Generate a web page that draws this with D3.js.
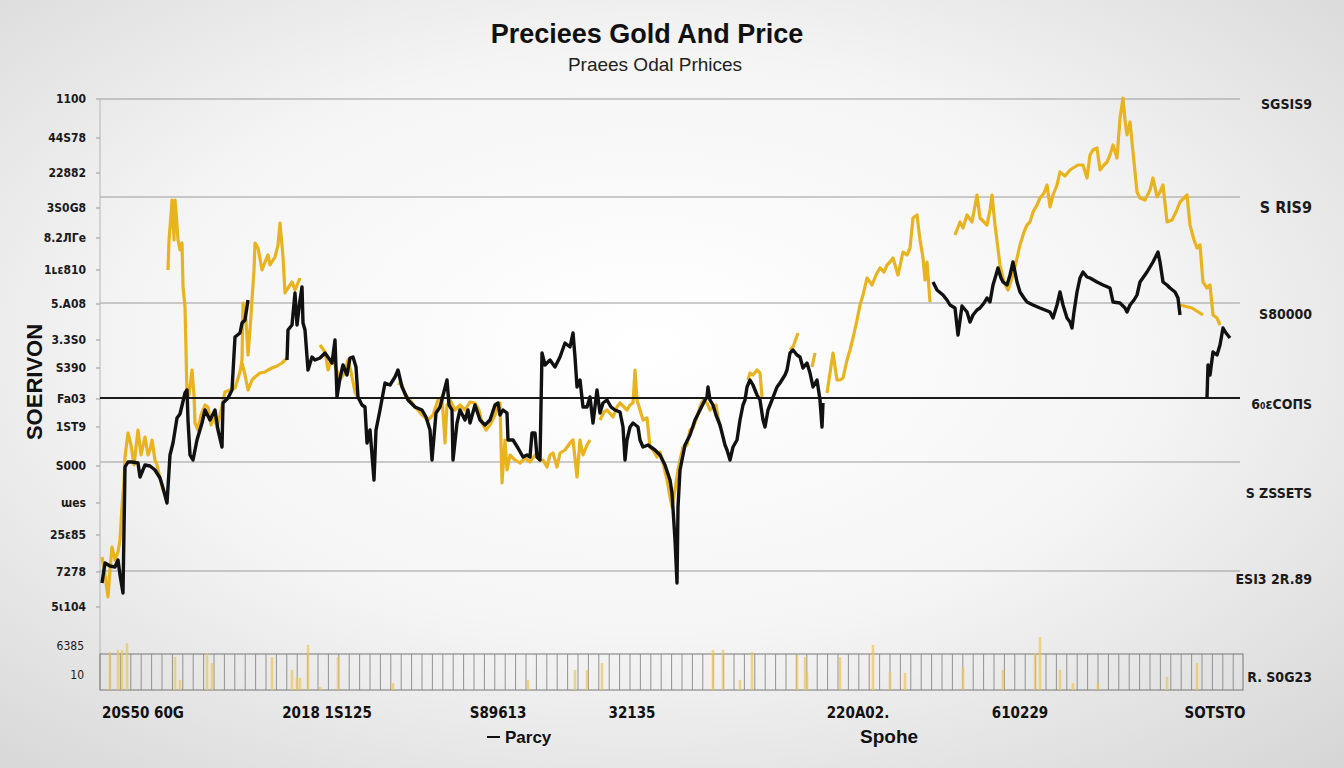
<!DOCTYPE html>
<html><head><meta charset="utf-8">
<script src="https://cdn.jsdelivr.net/npm/d3@7"></script>
<style>body{margin:0;background:#ececec;} svg{display:block}</style>
</head><body><svg id="c" width="1344" height="768"></svg>
<script>
// ---------- text ----------
const titleText = "Preciees Gold And Price";
const subtitleText = "Praees Odal Prhices";
const yTitle = "SOERIVON";
const legendA = "Parcy";
const legendB = "Spohe";

// ---------- tick labels ----------
const leftLabels = ["1100","44S78","22882","3S0G8","8.2ЛΓe","1ʟɛ810","5.A08","3.3S0","S390","Fa03","1ST9","S000","ɯes","25ɛ85","7278","5ɩ104"];
const leftValues = [501,462,427,392,362,330,296,260,232,201,173,134,97,65,28,-7];
const leftVolLabels = ["6385","10"];
const leftVolValues = [44,15];
const rightLabels = ["SGSIS9","S RIS9","S80000","6₀ɛCOПS","S ZSSETS","ESI3 2R.89"];
const rightValues = [496,392,286,196,107,21];
const rightVolLabels = ["R. S0G23"];
const rightVolValues = [13];
const xLabels = ["20S50 60G","2018 1S125","S89613","32135","220A02.","610229","SOTSTO"];
const xLabelWeeks = [43,227,398,532,758,920,1115];
const gridValues = [501,403,297,138,29];
const baseValue = 202;

// ---------- series (week, price); null = gap ----------
const blackSeries = [
[2,17],[5,37],[10,34],[15,33],[18,40],[20,25],[23,7],[25,133],[28,138],[32,138],[38,137],[40,123],[45,135],[50,134],[55,130],[60,122],[63,112],[67,97],[70,145],[73,157],[77,182],[80,186],[85,207],[87,210],[88,180],[90,145],[93,140],[97,160],[102,177],[105,190],[110,180],[115,190],[118,170],[122,153],[123,197],[128,202],[132,210],[135,263],[140,267],[142,277],[145,280],[148,300],
null,
[187,240],[188,270],[192,275],[195,307],[197,275],[200,300],[202,313],[203,277],[205,270],[208,230],[212,243],[215,240],[220,242],[225,247],[230,240],[232,237],[235,260],[237,203],[240,222],[243,235],[247,225],[250,242],[253,243],[256,233],[258,203],[262,195],[265,193],[267,157],[270,170],[274,120],[276,170],[280,190],[285,217],[290,215],[295,223],[298,230],[302,213],[308,200],[315,193],[322,190],[326,183],[330,170],[332,140],[336,187],[340,193],[347,220],[349,195],[352,190],[353,140],[357,177],[360,190],[365,180],[368,190],[370,177],[375,195],[380,180],[385,175],[390,180],[395,195],[398,197],[400,185],[403,190],[407,187],[408,160],[413,160],[418,152],[423,143],[427,145],[430,143],[432,167],[435,167],[437,143],[440,140],[442,247],[445,235],[450,240],[455,233],[460,243],[465,257],[470,253],[473,267],[475,243],[477,213],[480,220],[483,193],[487,193],[490,203],[493,177],[497,210],[500,187],[503,197],[507,200],[511,193],[515,190],[520,188],[523,173],[525,140],[527,160],[530,173],[533,177],[538,173],[540,160],[543,153],[548,155],[555,150],[560,145],[565,135],[570,120],[572,107],[575,60],[577,17],[578,93],[580,130],[585,155],[590,165],[595,180],[600,190],[605,200],[607,203],[608,213],[610,200],[613,195],[616,185],[620,175],[622,167],[625,155],[627,150],[630,140],[633,153],[637,160],[640,180],[643,195],[645,200],[647,213],[650,220],[653,215],[657,205],[660,200],[663,180],[665,173],[668,190],[672,200],[677,213],[680,217],[685,225],[687,230],[690,247],[693,250],[697,245],[700,243],[703,232],[707,237],[710,227],[713,213],[717,220],[720,200],[722,173],[723,197],
null,
[833,318],[837,310],[843,305],[847,300],[850,295],[855,292],[858,265],[862,294],[867,288],[870,278],[873,285],[877,290],[880,292],[884,297],[887,302],[890,298],[893,315],[896,325],[898,332],[901,322],[903,318],[907,315],[910,325],[913,338],[917,318],[920,308],[924,302],[927,298],[933,295],[940,292],[945,290],[950,288],[953,282],[957,295],[960,308],[963,295],[967,282],[970,278],[972,272],[974,288],[977,308],[980,322],[983,328],[987,323],[990,322],[997,318],[1003,315],[1010,312],[1013,298],[1020,297],[1025,292],[1027,288],[1030,295],[1034,300],[1037,305],[1040,318],[1047,328],[1053,338],[1058,348],[1060,338],[1063,318],[1067,315],[1070,312],[1075,308],[1078,302],[1080,285],
null,
[1107,202],[1108,235],[1110,225],[1113,248],[1117,245],[1120,255],[1123,272],[1126,267],[1130,262]
];

const goldSeries = [
[2,43],[5,25],[8,3],[10,30],[12,53],[15,40],[18,48],[20,60],[22,93],[24,120],[25,143],[28,167],[31,155],[34,135],[38,170],[41,145],[45,163],[48,145],[50,150],[52,160],[55,140],[57,135],[60,122],[63,110],
null,
[68,330],[69,360],[71,385],[72,400],[74,360],[75,400],[77,375],[78,360],[80,350],[82,357],[83,313],[85,293],[86,250],[87,203],[89,205],[92,230],[94,205],[95,177],[98,170],[101,185],[105,195],[108,193],[111,175],[114,185],[117,172],[120,185],[125,208],[130,210],[135,212],[140,228],[142,240],[143,297],[146,280],[148,245],[150,270],[152,300],[154,330],[155,357],[158,352],[162,330],[165,338],[168,345],[170,335],[175,343],[178,355],[180,377],[183,343],[185,307],[188,312],[192,318],[195,310],[200,322],
null,
[142,237],[145,225],[148,210],[152,220],[155,223],[160,227],[165,228],[168,230],[172,232],[177,234],[182,237],[187,242],
null,
[220,255],[225,248],[228,230],[231,240],[235,235],[240,220],[245,228],[248,240],[251,228],[255,208],[258,202],
null,
[298,217],[302,215],[305,205],[310,200],[315,193],[318,190],[322,185],[328,180],[333,185],[338,200],[342,203],[345,157],[347,195],[350,200],[355,190],[360,195],[365,190],[370,198],[375,197],[379,190],[382,177],[386,170],[390,175],[395,185],[398,195],[400,197],[402,117],[405,160],[407,130],[410,145],[415,140],[420,137],[425,142],[430,138],[435,145],[440,140],[443,140],[447,133],[450,145],[453,147],[457,133],[460,147],[465,150],[470,157],[473,160],[477,123],[480,160],[483,145],[487,155],[490,160],
null,
[500,180],[504,188],[507,190],[513,183],[517,193],[520,197],[527,190],[530,195],[533,197],[535,230],[537,200],[543,180],[547,182],[550,153],[553,150],[557,143],[560,148],[563,137],[567,120],[570,103],[572,93],[575,110],[578,130],[580,140],[583,153],[587,155],[590,170],[593,172],[597,183],[600,193],[603,200],[607,197],[610,190],[613,193],[616,195],[618,183],[620,173],
null,
[648,220],[650,227],[653,225],[657,230],[660,227],[662,203],
null,
[690,250],[693,253],[698,267],
null,
[712,233],[715,247],
null,
[727,207],[730,227],[733,247],[737,220],[740,220],[743,222],[747,240],[750,250],[753,262],[757,280],[760,295],[763,305],[767,322],[772,315],[776,325],[780,332],[784,328],[787,335],[790,338],[793,342],[798,325],[803,348],[807,345],[810,352],[813,382],[817,385],[820,360],[823,342],[825,320],[827,338],[830,298],
null,
[855,365],[860,378],[863,372],[867,385],[872,378],[877,405],[880,382],[884,378],[887,375],[890,390],[892,405],[895,375],[900,335],[904,318],[908,310],[913,325],[917,342],[920,355],[924,368],[927,375],[930,378],[933,388],[937,395],[940,402],[944,407],[947,415],[950,393],[953,405],[957,415],[960,428],[965,424],[970,430],[973,432],[978,435],[983,435],[987,422],[990,445],[993,450],[997,452],[1000,430],[1004,435],[1007,438],[1010,445],[1013,455],[1017,442],[1020,482],[1023,502],[1025,480],[1027,465],[1030,478],[1033,448],[1037,408],[1040,402],[1045,400],[1050,410],[1053,422],[1057,403],[1060,408],[1063,415],[1067,378],[1072,380],[1076,388],[1080,398],[1084,402],[1087,405],[1090,375],[1094,360],[1097,352],[1100,355],[1103,318],[1107,312],[1110,315],[1113,285],[1117,282],[1120,275],
null,
[1080,295],[1092,292],[1103,285]
];

// volume (week, volume)
const volWeeks = [10,18,22,27,75,80,107,112,172,192,197,200,208,220,238,293,428,475,487,502,613,623,640,652,697,705,707,740,773,790,805,863,903,935,940,960,973,998,1067,1097];
const volValues = [38,40,40,47,33,10,37,27,33,20,12,12,45,3,33,7,10,20,20,27,40,40,10,38,35,33,17,33,45,18,17,23,20,37,53,20,7,7,13,27];

// ---------- drawing ----------
const svg = d3.select("#c");
const W = 1344, H = 768;
const defs = svg.append("defs");
const rg = defs.append("radialGradient").attr("id","bg").attr("cx","0.48").attr("cy","0.45").attr("r","0.75");
rg.append("stop").attr("offset","0").attr("stop-color","#ffffff");
rg.append("stop").attr("offset","0.5").attr("stop-color","#f5f5f5");
rg.append("stop").attr("offset","1").attr("stop-color","#d6d6d6");
svg.append("rect").attr("width",W).attr("height",H).attr("fill","url(#bg)");

const x = d3.scaleLinear().domain([0,1140]).range([100,1240]);
const y = d3.scaleLinear().domain([0,501]).range([600,99]);
const yv = d3.scaleLinear().domain([0,50]).range([690,640]);

// title
svg.append("text").attr("x",647).attr("y",43).attr("text-anchor","middle")
  .attr("font-family","Liberation Sans, Arial, sans-serif").attr("font-weight","bold")
  .attr("font-size",27).attr("fill","#111").text(titleText);
svg.append("text").attr("x",655).attr("y",71).attr("text-anchor","middle")
  .attr("font-family","Liberation Sans, Arial, sans-serif")
  .attr("font-size",19).attr("fill","#222").text(subtitleText);

// grid
svg.append("g").selectAll("line").data(gridValues).join("line")
  .attr("x1",x(0)).attr("x2",x(1140)).attr("y1",d=>y(d)).attr("y2",d=>y(d))
  .attr("stroke","#9a9a9a").attr("stroke-width",1);

// left axis line + ticks
svg.append("line").attr("x1",100).attr("x2",100).attr("y1",y(501)).attr("y2",yv(0))
  .attr("stroke","#b5b5b5").attr("stroke-width",1);
svg.append("g").selectAll("line").data(leftValues).join("line")
  .attr("x1",96).attr("x2",100).attr("y1",d=>y(d)).attr("y2",d=>y(d))
  .attr("stroke","#999");

// volume panel
const volG = svg.append("g");
volG.append("rect").attr("x",x(0)).attr("y",yv(36)).attr("width",x(1143)-x(0)).attr("height",yv(0)-yv(36))
  .attr("fill","none").attr("stroke","#777").attr("stroke-width",1);
volG.selectAll("line.vg").data(d3.range(10,1140,10.4)).join("line").attr("class","vg")
  .attr("x1",d=>x(d)).attr("x2",d=>x(d)).attr("y1",yv(36)).attr("y2",yv(0))
  .attr("stroke","#888").attr("stroke-width",0.9);
volG.selectAll("rect.vb").data(volWeeks.map((w,i)=>[w,volValues[i]])).join("rect").attr("class","vb")
  .attr("x",d=>x(d[0])-1.3).attr("width",2.6)
  .attr("y",d=>yv(d[1])).attr("height",d=>yv(0)-yv(d[1]))
  .attr("fill","#ecc55a").attr("opacity",0.7);

// lines
const line = d3.line().defined(d=>d!==null).x(d=>x(d[0])).y(d=>y(d[1]));
svg.append("path").datum(goldSeries).attr("d",line).attr("fill","none")
  .attr("stroke","#e9b320").attr("stroke-width",3.2).attr("stroke-linejoin","round");
// baseline (dark)
svg.append("line").attr("x1",x(0)).attr("x2",x(1140)).attr("y1",y(baseValue)).attr("y2",y(baseValue))
  .attr("stroke","#1a1a1a").attr("stroke-width",1.8);
svg.append("path").datum(blackSeries).attr("d",line).attr("fill","none")
  .attr("stroke","#111").attr("stroke-width",3.4).attr("stroke-linejoin","round");

// left labels
const lblFont = "DejaVu Sans Condensed, DejaVu Sans, sans-serif";
svg.append("g").selectAll("text").data(leftLabels).join("text")
  .attr("x",86).attr("y",(d,i)=>y(leftValues[i])+4).attr("text-anchor","end")
  .attr("font-family",lblFont).attr("font-weight","bold").attr("font-size",12).attr("fill","#1a1a1a")
  .text(d=>d);
svg.append("g").selectAll("text").data(leftVolLabels).join("text")
  .attr("x",84).attr("y",(d,i)=>yv(leftVolValues[i])+4).attr("text-anchor","end")
  .attr("font-family",lblFont).attr("font-size",12).attr("fill","#1a1a1a")
  .text(d=>d);

// right labels
svg.append("g").selectAll("text").data(rightLabels).join("text")
  .attr("x",1312).attr("y",(d,i)=>y(rightValues[i])+5).attr("text-anchor","end")
  .attr("font-family",lblFont).attr("font-weight","bold")
  .attr("font-size",(d,i)=>i===1?16:14).attr("fill","#1a1a1a")
  .text(d=>d);
svg.append("g").selectAll("text").data(rightVolLabels).join("text")
  .attr("x",1312).attr("y",(d,i)=>yv(rightVolValues[i])+5).attr("text-anchor","end")
  .attr("font-family",lblFont).attr("font-weight","bold").attr("font-size",14).attr("fill","#1a1a1a")
  .text(d=>d);

// y title
svg.append("text").attr("transform",`translate(42,${382}) rotate(-90)`).attr("text-anchor","middle")
  .attr("font-family","Liberation Sans, Arial, sans-serif").attr("font-weight","bold")
  .attr("font-size",22).attr("fill","#111").text(yTitle);

// x labels
svg.append("g").selectAll("text").data(xLabels).join("text")
  .attr("x",(d,i)=>x(xLabelWeeks[i])).attr("y",718).attr("text-anchor","middle")
  .attr("font-family",lblFont).attr("font-weight","bold").attr("font-size",15).attr("fill","#111")
  .text(d=>d);

// legend
svg.append("line").attr("x1",487).attr("x2",500).attr("y1",737).attr("y2",737).attr("stroke","#111").attr("stroke-width",2);
svg.append("text").attr("x",505).attr("y",743).attr("font-family","Liberation Sans, Arial, sans-serif")
  .attr("font-weight","bold").attr("font-size",17).attr("fill","#111").text(legendA);
svg.append("text").attr("x",860).attr("y",743).attr("font-family","Liberation Sans, Arial, sans-serif")
  .attr("font-weight","bold").attr("font-size",19).attr("fill","#111").text(legendB);
</script>
</body></html>
